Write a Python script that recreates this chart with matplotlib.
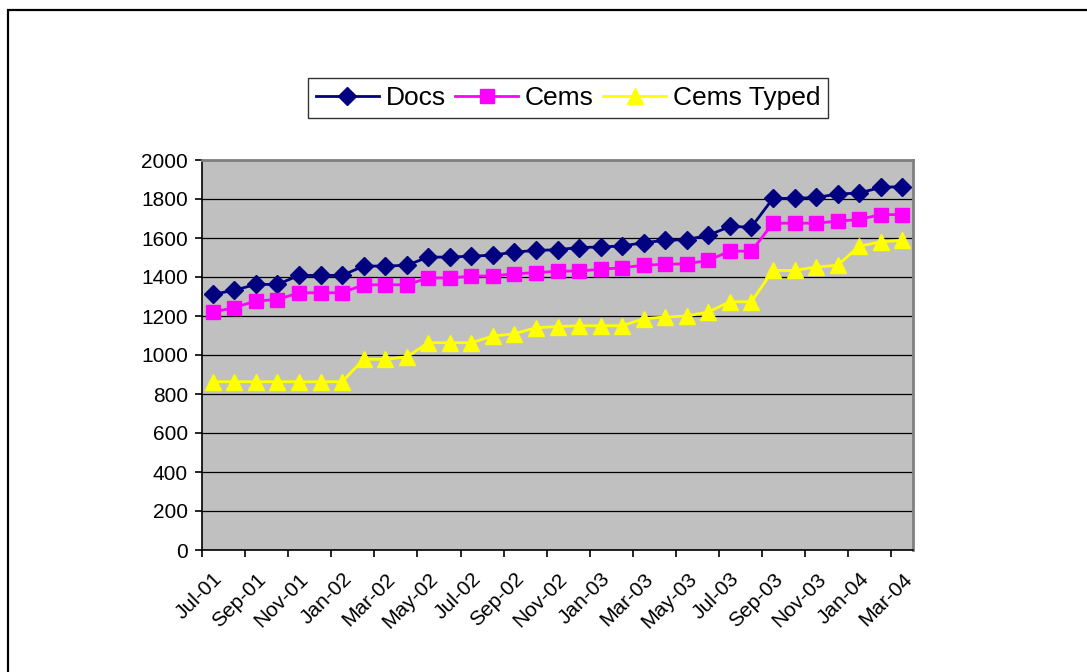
import numpy as np
import matplotlib.pyplot as plt
from matplotlib.patches import Rectangle

plt.rcParams['font.family'] = ['Liberation Sans', 'DejaVu Sans']

months = ['Jul-01', 'Aug-01', 'Sep-01', 'Oct-01', 'Nov-01', 'Dec-01',
          'Jan-02', 'Feb-02', 'Mar-02', 'Apr-02', 'May-02', 'Jun-02',
          'Jul-02', 'Aug-02', 'Sep-02', 'Oct-02', 'Nov-02', 'Dec-02',
          'Jan-03', 'Feb-03', 'Mar-03', 'Apr-03', 'May-03', 'Jun-03',
          'Jul-03', 'Aug-03', 'Sep-03', 'Oct-03', 'Nov-03', 'Dec-03',
          'Jan-04', 'Feb-04', 'Mar-04']

docs = [1311, 1332, 1362, 1362, 1408, 1408, 1408, 1456, 1456, 1460,
        1502, 1502, 1507, 1512, 1528, 1536, 1540, 1551, 1554, 1559,
        1576, 1588, 1592, 1614, 1659, 1656, 1803, 1803, 1808, 1825,
        1831, 1859, 1864]

cems = [1220, 1243, 1277, 1284, 1319, 1319, 1319, 1360, 1360, 1360,
        1395, 1395, 1405, 1405, 1417, 1422, 1430, 1431, 1439, 1448,
        1460, 1465, 1468, 1485, 1533, 1532, 1676, 1676, 1676, 1686,
        1695, 1720, 1720]

cems_typed = [863, 863, 863, 863, 863, 863, 863, 978, 978, 990,
              1063, 1063, 1063, 1097, 1109, 1140, 1146, 1150, 1150, 1150,
              1186, 1195, 1200, 1221, 1273, 1273, 1434, 1434, 1451, 1460,
              1558, 1580, 1588]

x = np.arange(len(months))

fig = plt.figure(figsize=(10.87, 6.72), dpi=100)
# outer chart border (top and left edges visible)
fig.patches.append(Rectangle((8 / 1087, -0.1), 1.2, 1.1 - 10 / 672,
                             transform=fig.transFigure, fill=False,
                             edgecolor='black', linewidth=1.6))
ax = fig.add_axes([202 / 1087, 122 / 672, 711 / 1087, 390 / 672])
ax.set_facecolor('#C0C0C0')

ax.plot(x, docs, color='#000080', marker='D', markersize=9.5, linewidth=2, label='Docs')
ax.plot(x, cems, color='#FF00FF', marker='s', markersize=9.5, linewidth=2, label='Cems')
ax.plot(x, cems_typed, color='#FFFF00', marker='^', markersize=11, linewidth=2, label='Cems Typed')

ax.set_xlim(-0.5, len(months) - 0.5)
ax.set_ylim(0, 2000)
ax.set_yticks(range(0, 2001, 200))
ax.yaxis.grid(True, color='black', linewidth=0.9)
ax.set_axisbelow(True)

ax.set_xticks(x[::2])
ax.set_xticklabels(months[::2], rotation=45, ha='right', rotation_mode='anchor')
ax.set_xticks(np.arange(-0.5, len(months), 2), minor=True)
ax.tick_params(axis='x', which='major', length=0, pad=14, labelsize=15)
ax.tick_params(axis='x', which='minor', length=5, width=1.2, color='black')
ax.tick_params(axis='y', length=5, width=1.2, pad=5, labelsize=15)

for s in ['top', 'right']:
    ax.spines[s].set_color('#808080')
    ax.spines[s].set_linewidth(2)
for s in ['left', 'bottom']:
    ax.spines[s].set_color('black')
    ax.spines[s].set_linewidth(1.2)

leg = fig.legend(loc='center', bbox_to_anchor=(568 / 1087, 1 - 98 / 672), ncol=3,
                 fontsize=19, frameon=True, fancybox=False, edgecolor='black',
                 handlelength=2.4, columnspacing=0.35, handletextpad=0.25,
                 borderpad=0.3, borderaxespad=0)
leg.get_frame().set_linewidth(1.0)

fig.savefig('out.png', dpi=100)
